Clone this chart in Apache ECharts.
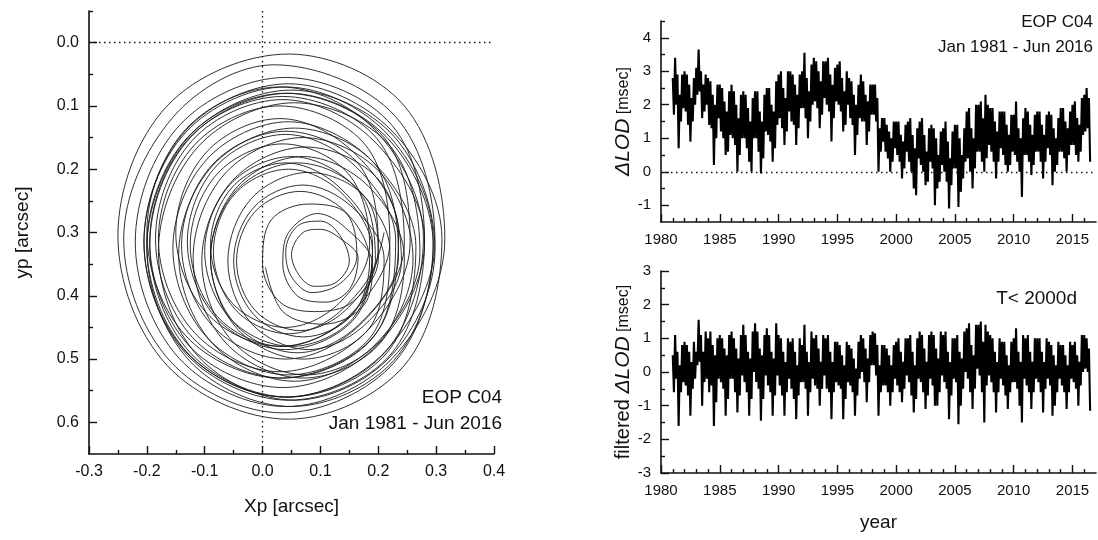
<!DOCTYPE html>
<html>
<head>
<meta charset="utf-8">
<script src="https://cdn.jsdelivr.net/npm/echarts@6/dist/echarts.min.js"></script>
<style>html,body{margin:0;padding:0;background:#fff}#c{width:1098px;height:540px}</style>
</head>
<body>
<div id="c"></div>
<script>
// ---------------- DATA ----------------
// Polar motion path (xp, yp in arcsec), read loop by loop from the left panel
const polarMotion = [
[0.21,0.30],[0.157,0.427],[0.03,0.48],[-0.097,0.427],[-0.15,0.30],[-0.097,0.173],[0.03,0.12],[0.157,0.173],
[0.235,0.30],[0.193,0.463],[0.03,0.53],[-0.133,0.463],[-0.20,0.30],[-0.133,0.137],[0.03,0.07],[0.193,0.137],
[0.278,0.308],[0.213,0.488],[0.04,0.56],[-0.133,0.488],[-0.205,0.315],[-0.133,0.142],[0.04,0.07],[0.213,0.142],
[0.295,0.312],[0.229,0.504],[0.035,0.585],[-0.159,0.504],[-0.24,0.31],[-0.155,0.118],[0.02,0.035],[0.229,0.116],
[0.298,0.315],[0.21,0.49],[0.04,0.56],[-0.13,0.49],[-0.20,0.32],[-0.13,0.15],[0.04,0.08],[0.21,0.15],
[0.255,0.315],[0.178,0.458],[0.03,0.52],[-0.118,0.458],[-0.18,0.31],[-0.118,0.162],[0.03,0.10],[0.178,0.162],
[0.22,0.315],[0.148,0.433],[0.035,0.48],[-0.078,0.433],[-0.125,0.32],[-0.078,0.207],[0.035,0.16],[0.148,0.207],
[0.185,0.32],[0.132,0.412],[0.04,0.45],[-0.052,0.412],[-0.09,0.32],[-0.052,0.228],[0.04,0.19],[0.132,0.228],
[0.19,0.318],[0.16,0.435],[0.04,0.485],[-0.08,0.435],[-0.13,0.315],[-0.08,0.195],[0.04,0.145],[0.16,0.195],
[0.23,0.312],[0.191,0.466],[0.035,0.53],[-0.121,0.466],[-0.185,0.31],[-0.121,0.154],[0.035,0.09],[0.191,0.154],
[0.28,0.312],[0.222,0.492],[0.045,0.565],[-0.132,0.492],[-0.205,0.315],[-0.132,0.138],[0.045,0.065],[0.222,0.138],
[0.31,0.31],[0.245,0.51],[0.045,0.595],[-0.165,0.51],[-0.25,0.305],[-0.165,0.10],[0.045,0.018],[0.245,0.10],
[0.315,0.31],[0.224,0.499],[0.04,0.575],[-0.144,0.499],[-0.22,0.315],[-0.144,0.131],[0.04,0.055],[0.224,0.131],
[0.28,0.315],[0.198,0.478],[0.035,0.545],[-0.128,0.478],[-0.195,0.315],[-0.128,0.152],[0.035,0.085],[0.198,0.152],
[0.245,0.318],[0.167,0.447],[0.04,0.50],[-0.087,0.447],[-0.14,0.32],[-0.087,0.193],[0.04,0.14],[0.167,0.193],
[0.20,0.325],[0.137,0.422],[0.045,0.46],[-0.047,0.422],[-0.085,0.33],[-0.047,0.238],[0.045,0.20],[0.137,0.238],
[0.19,0.33],[0.156,0.436],[0.05,0.48],[-0.056,0.436],[-0.10,0.33],[-0.056,0.224],[0.05,0.18],[0.156,0.224],
[0.22,0.328],[0.186,0.466],[0.045,0.525],[-0.096,0.466],[-0.155,0.325],[-0.096,0.184],[0.045,0.125],[0.186,0.184],
[0.265,0.322],[0.215,0.49],[0.045,0.56],[-0.125,0.49],[-0.195,0.32],[-0.125,0.15],[0.045,0.08],[0.215,0.15],
[0.295,0.322],[0.227,0.502],[0.05,0.575],[-0.127,0.502],[-0.20,0.325],[-0.127,0.148],[0.05,0.075],[0.227,0.148],
[0.298,0.328],[0.221,0.496],[0.055,0.565],[-0.111,0.496],[-0.18,0.33],[-0.111,0.164],[0.055,0.095],[0.221,0.164],
[0.272,0.332],[0.196,0.476],[0.055,0.535],[-0.086,0.476],[-0.145,0.335],[-0.086,0.194],[0.055,0.135],[0.196,0.194],
[0.235,0.338],[0.166,0.446],[0.06,0.49],[-0.046,0.446],[-0.09,0.34],[-0.046,0.234],[0.06,0.19],[0.166,0.234],
[0.195,0.342],[0.143,0.423],[0.065,0.455],[-0.013,0.423],[-0.045,0.345],[-0.013,0.267],[0.065,0.235],[0.143,0.267],
[0.185,0.345],[0.155,0.43],[0.07,0.465],[-0.015,0.43],[-0.05,0.345],[-0.015,0.26],[0.07,0.225],[0.155,0.26],
[0.21,0.342],[0.183,0.453],[0.07,0.50],[-0.043,0.453],[-0.09,0.34],[-0.043,0.227],[0.07,0.18],[0.183,0.227],
[0.245,0.34],[0.204,0.474],[0.07,0.53],[-0.064,0.474],[-0.12,0.34],[-0.064,0.206],[0.07,0.15],[0.204,0.206],
[0.26,0.342],[0.202,0.472],[0.075,0.525],[-0.052,0.472],[-0.105,0.345],[-0.052,0.218],[0.075,0.165],[0.202,0.218],
[0.24,0.345],[0.179,0.444],[0.08,0.485],[-0.019,0.444],[-0.06,0.345],[-0.019,0.246],[0.08,0.205],[0.179,0.246],
[0.20,0.342],[0.155,0.41],[0.09,0.425],[0.03,0.41],[0.0,0.35],[0.015,0.28],[0.08,0.255],[0.145,0.27],
[0.163,0.338],[0.135,0.38],[0.085,0.395],[0.05,0.37],[0.04,0.33],[0.06,0.29],[0.10,0.282],[0.13,0.30],
[0.15,0.345],[0.125,0.38],[0.09,0.385],[0.065,0.37],[0.05,0.335],[0.07,0.30],[0.10,0.295],[0.135,0.31],
[0.165,0.34],[0.15,0.39],[0.11,0.41],[0.06,0.40],[0.035,0.35],[0.045,0.30],[0.095,0.27],[0.14,0.29],
[0.19,0.35],[0.175,0.415],[0.105,0.445],[0.035,0.425],[0.005,0.355]
];

// LOD time series: samples every 0.1 yr starting Jan 1981 (msec)
const lodStartYear = 1981.0;
const lodStepYear = 0.1;
const lodValues = [
2.8,1.7,3.4,2.0,2.9,0.7,2.3,1.5,2.9,1.9,      // 1981
3.0,1.8,2.9,1.4,2.6,0.9,2.2,1.5,2.8,2.0,      // 1982
3.1,2.3,3.65,2.4,3.0,1.6,2.6,1.8,2.9,2.0,     // 1983
2.8,1.4,2.7,1.3,2.3,0.2,2.0,1.0,2.6,1.6,      // 1984
2.6,1.2,2.5,1.0,2.1,0.5,1.8,0.6,2.4,1.1,      // 1985
2.6,1.0,2.4,0.8,2.0,0.0,1.6,0.5,2.3,1.0,      // 1986
2.4,1.0,2.3,0.7,1.9,0.3,1.5,0.0,2.2,1.0,      // 1987
2.4,1.0,2.4,0.6,1.8,-0.05,1.5,0.4,2.3,1.2,    // 1988
2.5,1.1,2.5,0.9,2.0,0.3,1.8,0.7,2.7,1.4,      // 1989
2.9,1.6,3.0,1.3,2.5,0.8,2.2,1.2,3.0,1.8,      // 1990
3.0,1.5,2.9,1.4,2.6,0.8,2.3,1.3,2.9,1.9,      // 1991
3.0,1.9,3.55,1.6,2.8,1.0,2.4,1.5,3.2,2.0,     // 1992
3.4,2.1,3.3,1.9,3.0,1.3,2.7,1.7,3.3,2.2,      // 1993
3.3,2.0,3.4,1.8,2.9,0.9,2.6,1.6,3.1,2.1,      // 1994
3.2,2.0,3.3,1.8,2.8,1.2,2.4,1.4,3.0,2.0,      // 1995
2.8,1.6,2.7,1.4,2.3,0.5,2.0,1.1,2.6,1.6,      // 1996
2.9,1.5,2.7,1.5,2.3,0.8,2.1,1.2,2.6,1.7,      // 1997
2.6,1.7,2.6,1.5,2.2,0.0,1.3,0.6,1.6,0.9,      // 1998
1.6,0.6,1.4,0.4,1.2,0.0,1.0,0.3,1.5,0.7,      // 1999
1.5,0.5,1.5,0.3,1.1,-0.2,0.9,0.1,1.4,0.6,     // 2000
1.5,0.3,1.6,0.0,1.1,-0.5,0.7,-0.7,1.3,0.4,    // 2001
1.5,0.2,1.6,0.0,1.1,-0.4,0.6,-0.3,1.3,0.3,    // 2002
1.4,0.1,1.3,-1.0,1.0,-0.5,0.5,-0.3,1.2,0.2,   // 2003
1.3,0.0,1.5,-0.3,0.9,-1.1,0.4,-0.4,1.2,0.1,   // 2004
1.4,0.1,1.4,-1.05,1.0,-0.6,0.5,-0.2,1.3,0.3,  // 2005
1.8,0.4,1.9,0.0,1.3,-0.5,1.0,0.1,2.0,0.6,     // 2006
2.0,0.6,2.1,0.3,1.6,0.0,2.3,0.4,2.0,0.8,      // 2007
1.9,0.6,1.9,0.3,1.5,-0.2,1.2,0.3,1.8,0.7,     // 2008
1.8,0.5,1.8,0.2,1.4,0.0,1.1,0.2,1.7,0.6,      // 2009
1.7,0.5,2.1,0.3,1.3,0.0,1.0,-0.75,1.6,0.5,    // 2010
1.9,0.5,1.8,0.3,1.4,-0.1,1.1,0.2,1.7,0.6,     // 2011
1.8,0.6,1.8,0.3,1.4,-0.2,1.1,0.3,1.7,0.7,     // 2012
1.8,0.5,1.7,-0.4,1.3,0.0,1.0,0.2,1.6,0.6,     // 2013
1.9,0.6,1.9,0.4,1.5,0.0,1.3,0.5,1.8,0.8,      // 2014
2.0,0.8,2.1,0.5,1.6,0.3,1.4,0.6,2.2,1.1,      // 2015
2.3,1.2,2.5,1.3,2.2,0.3                        // 2016 (to Jun)
];
const lodFilteredValues = [
0.5,-0.6,1.1,-0.2,0.6,-1.6,0.2,-0.6,0.8,-0.3,     // 1981
0.9,-0.4,0.8,-0.7,0.6,-1.3,0.3,-0.5,0.9,-0.2,     // 1982
0.6,0.2,1.55,0.3,1.1,-1.0,0.6,-0.3,1.2,-0.2,      // 1983
1.0,-0.6,1.2,-0.4,0.8,-1.6,0.5,-0.9,1.0,-0.2,     // 1984
1.1,-0.3,1.0,-0.5,0.7,-1.3,0.5,-0.8,1.1,-0.2,     // 1985
1.2,-0.2,1.0,-0.6,0.7,-1.2,0.4,-0.7,1.1,-0.1,     // 1986
1.4,-0.3,1.1,-0.6,0.6,-1.3,0.4,-0.8,1.2,0.0,      // 1987
1.45,-0.3,1.2,-0.5,0.7,-1.45,0.5,-0.8,1.1,-0.1,   // 1988
1.3,-0.4,1.1,-0.6,0.6,-1.3,0.4,-0.7,1.45,-0.1,    // 1989
1.1,-0.4,1.0,-0.7,0.6,-1.3,0.3,-0.6,1.0,-0.2,     // 1990
0.9,-0.5,1.0,-0.8,0.6,-1.4,0.2,-0.7,1.0,-0.3,     // 1991
0.8,-0.3,1.4,-0.5,0.6,-1.3,0.3,-0.6,1.2,-0.2,     // 1992
1.0,-0.4,1.1,-0.5,0.7,-1.0,0.3,-0.5,1.1,-0.1,     // 1993
1.0,-0.5,1.1,-0.6,0.6,-1.4,0.3,-0.6,0.9,-0.3,     // 1994
0.9,-0.4,0.8,-0.5,0.5,-1.4,0.2,-0.8,0.9,-0.3,     // 1995
0.8,-0.4,0.7,-0.6,0.4,-1.3,0.1,-0.7,0.9,-0.2,     // 1996
1.1,0.0,1.0,-0.3,0.7,-0.9,0.4,-0.3,1.1,0.2,       // 1997
1.2,0.2,1.15,-0.1,0.8,-1.3,0.2,-0.6,0.8,-0.4,     // 1998
0.8,-0.4,0.7,-0.6,0.5,-1.0,0.2,-0.6,0.8,-0.2,     // 1999
0.9,-0.4,1.0,-0.6,0.6,-0.9,0.3,-0.5,1.0,-0.1,     // 2000
1.0,-0.3,1.1,-0.7,0.6,-1.2,0.2,-0.8,1.0,-0.2,     // 2001
1.2,-0.3,1.1,-0.6,0.7,-1.1,0.3,-0.7,1.1,-0.2,     // 2002
1.2,-0.4,1.1,-1.0,0.7,-1.0,0.4,-0.6,1.2,-0.1,     // 2003
1.1,-0.3,1.2,-0.5,0.6,-1.4,0.3,-0.7,1.0,-0.2,     // 2004
1.0,-0.3,1.1,-1.55,0.6,-1.0,0.4,-0.5,1.2,0.0,     // 2005
1.3,-0.2,1.45,-0.6,0.8,-1.1,0.5,-0.5,1.4,0.1,     // 2006
1.4,-0.1,1.5,-0.6,0.9,-1.5,1.4,-0.4,1.2,-0.1,     // 2007
1.1,-0.3,1.0,-0.6,0.6,-1.2,0.3,-0.6,1.0,-0.2,     // 2008
0.9,-0.4,0.9,-0.7,0.5,-1.1,0.2,-0.6,0.9,-0.3,     // 2009
1.0,-0.3,1.3,-0.5,0.6,-1.0,0.3,-1.5,1.1,-0.2,     // 2010
1.0,-0.4,1.1,-0.6,0.6,-1.1,0.3,-0.6,1.0,-0.2,     // 2011
1.0,-0.3,1.0,-0.6,0.6,-1.2,0.3,-0.5,1.0,-0.2,     // 2012
0.9,-0.4,0.8,-1.3,0.5,-1.0,0.2,-0.6,0.9,-0.2,     // 2013
0.8,-0.4,0.8,-0.6,0.5,-1.1,0.2,-0.6,0.9,-0.2,     // 2014
0.8,-0.3,0.9,-0.5,0.5,-1.0,0.3,-0.4,1.1,0.0,      // 2015
1.1,0.1,1.0,0.0,0.7,-1.15                          // 2016 (to Jun)
];

// Tick positions
const pmXMajor = [-0.3,-0.2,-0.1,0.0,0.1,0.2,0.3,0.4];
const pmXMinor = [-0.25,-0.15,-0.05,0.05,0.15,0.25,0.35];
const pmYMajor = [0.0,0.1,0.2,0.3,0.4,0.5,0.6];
const pmYMinor = [-0.05,0.05,0.15,0.25,0.35,0.45,0.55];
const yearMajor = [1980,1985,1990,1995,2000,2005,2010,2015];
const yearMinor = [1981,1982,1983,1984,1986,1987,1988,1989,1991,1992,1993,1994,1996,1997,1998,1999,2001,2002,2003,2004,2006,2007,2008,2009,2011,2012,2013,2014,2016];
const lodMajor = [-1,0,1,2,3,4];
const lodMinor = [-0.5,0.5,1.5,2.5,3.5,4.5];
const filtMajor = [-3,-2,-1,0,1,2,3];
const filtMinor = [-2.5,-1.5,-0.5,0.5,1.5,2.5];

// ---------------- CHART ----------------
const FONT = '"Liberation Sans", Arial, Helvetica, sans-serif';
const INK = '#111';

function majorAxis(o) {
  return Object.assign({
    type: 'value',
    splitLine: {show: false},
    axisLine: {show: true, onZero: false, lineStyle: {color: INK, width: 1.6}},
    axisTick: {show: true, inside: true, length: 8, lineStyle: {color: INK, width: 1.4}, customValues: o.ticks},
    axisLabel: {show: true, customValues: o.ticks, color: INK, fontFamily: FONT, fontSize: o.fs, margin: o.margin,
      formatter: o.fmt},
    nameTextStyle: {color: INK, fontFamily: FONT, fontSize: 19},
    nameLocation: 'middle'
  }, o.extra);
}
function minorAxis(o) {
  return Object.assign({
    type: 'value',
    splitLine: {show: false},
    axisLine: {show: false, onZero: false},
    axisTick: {show: true, inside: true, length: 4, lineStyle: {color: INK, width: 1.4}, customValues: o.ticks},
    axisLabel: {show: false}
  }, o.extra);
}

const dotted = {color: INK, width: 1.3, type: [1.5, 3.5]};
const chart = echarts.init(document.getElementById('c'), null, {renderer: 'canvas'});
chart.setOption({
  animation: false,
  backgroundColor: '#fff',
  textStyle: {fontFamily: FONT},
  grid: [
    {left: 89, top: 11, width: 405, height: 443},
    {left: 661, top: 21, width: 435, height: 201},
    {left: 661, top: 271, width: 435, height: 202}
  ],
  xAxis: [
    majorAxis({ticks: pmXMajor, fs: 16, margin: 10, fmt: v => v.toFixed(1),
      extra: {gridIndex: 0, position: 'bottom', min: -0.3, max: 0.4, name: 'Xp [arcsec]', nameGap: 43}}),
    minorAxis({ticks: pmXMinor, extra: {gridIndex: 0, position: 'bottom', min: -0.3, max: 0.4}}),
    majorAxis({ticks: yearMajor, fs: 15, margin: 10, fmt: v => String(v),
      extra: {gridIndex: 1, position: 'bottom', min: 1980, max: 2017}}),
    minorAxis({ticks: yearMinor, extra: {gridIndex: 1, position: 'bottom', min: 1980, max: 2017}}),
    majorAxis({ticks: yearMajor, fs: 15, margin: 10, fmt: v => String(v),
      extra: {gridIndex: 2, position: 'bottom', min: 1980, max: 2017, name: 'year', nameGap: 40}}),
    minorAxis({ticks: yearMinor, extra: {gridIndex: 2, position: 'bottom', min: 1980, max: 2017}})
  ],
  yAxis: [
    majorAxis({ticks: pmYMajor, fs: 16, margin: 10, fmt: v => v.toFixed(1),
      extra: {gridIndex: 0, position: 'left', inverse: true, min: -0.05, max: 0.65, name: 'yp [arcsec]', nameGap: 57}}),
    minorAxis({ticks: pmYMinor, extra: {gridIndex: 0, position: 'left', inverse: true, min: -0.05, max: 0.65}}),
    majorAxis({ticks: lodMajor, fs: 15, margin: 10, fmt: v => String(v),
      extra: {gridIndex: 1, position: 'left', min: -1.5, max: 4.5, nameGap: 27,
        name: '{a|\u0394LOD}{b| [msec]}',
        nameTextStyle: {color: INK, fontFamily: FONT, rich: {
          a: {fontStyle: 'italic', fontSize: 21, fontFamily: FONT, color: INK},
          b: {fontSize: 16, fontFamily: FONT, color: INK}}}}}),
    minorAxis({ticks: lodMinor, extra: {gridIndex: 1, position: 'left', min: -1.5, max: 4.5}}),
    majorAxis({ticks: filtMajor, fs: 15, margin: 10, fmt: v => String(v),
      extra: {gridIndex: 2, position: 'left', min: -3, max: 3, nameGap: 27,
        name: '{c|filtered }{a|\u0394LOD}{b| [msec]}',
        nameTextStyle: {color: INK, fontFamily: FONT, rich: {
          c: {fontSize: 20, fontFamily: FONT, color: INK},
          a: {fontStyle: 'italic', fontSize: 21, fontFamily: FONT, color: INK},
          b: {fontSize: 16, fontFamily: FONT, color: INK}}}}}),
    minorAxis({ticks: filtMinor, extra: {gridIndex: 2, position: 'left', min: -3, max: 3}})
  ],
  series: [
    {
      type: 'line', xAxisIndex: 0, yAxisIndex: 0, data: polarMotion,
      showSymbol: false, symbol: 'none', smooth: 0.35,
      lineStyle: {color: '#1a1a1a', width: 0.9},
      markLine: {silent: true, symbol: 'none', label: {show: false}, lineStyle: dotted,
        data: [{xAxis: 0}, {yAxis: 0}]}
    },
    {
      type: 'line', xAxisIndex: 2, yAxisIndex: 2,
      data: lodValues.map((v, i) => [lodStartYear + i * lodStepYear, v]),
      showSymbol: false, symbol: 'none',
      lineStyle: {color: '#000', width: 2.1, join: 'miter', miterLimit: 3},
      markLine: {silent: true, symbol: 'none', label: {show: false}, lineStyle: dotted,
        data: [{yAxis: 0}]}
    },
    {
      type: 'line', xAxisIndex: 4, yAxisIndex: 4,
      data: lodFilteredValues.map((v, i) => [lodStartYear + i * lodStepYear, v]),
      showSymbol: false, symbol: 'none',
      lineStyle: {color: '#000', width: 2.1, join: 'miter', miterLimit: 3}
    }
  ],
  graphic: [
    {type: 'text', x: 502, y: 398, style: {text: 'EOP C04', textAlign: 'right', textVerticalAlign: 'middle', font: '19px ' + FONT, fill: INK}},
    {type: 'text', x: 502, y: 424, style: {text: 'Jan 1981 - Jun 2016', textAlign: 'right', textVerticalAlign: 'middle', font: '19px ' + FONT, fill: INK}},
    {type: 'text', x: 1093, y: 22, style: {text: 'EOP C04', textAlign: 'right', textVerticalAlign: 'middle', font: '17px ' + FONT, fill: INK}},
    {type: 'text', x: 1093, y: 47, style: {text: 'Jan 1981 - Jun 2016', textAlign: 'right', textVerticalAlign: 'middle', font: '17px ' + FONT, fill: INK}},
    {type: 'text', x: 1077, y: 299, style: {text: 'T< 2000d', textAlign: 'right', textVerticalAlign: 'middle', font: '19px ' + FONT, fill: INK}}
  ]
});
</script>
</body>
</html>
